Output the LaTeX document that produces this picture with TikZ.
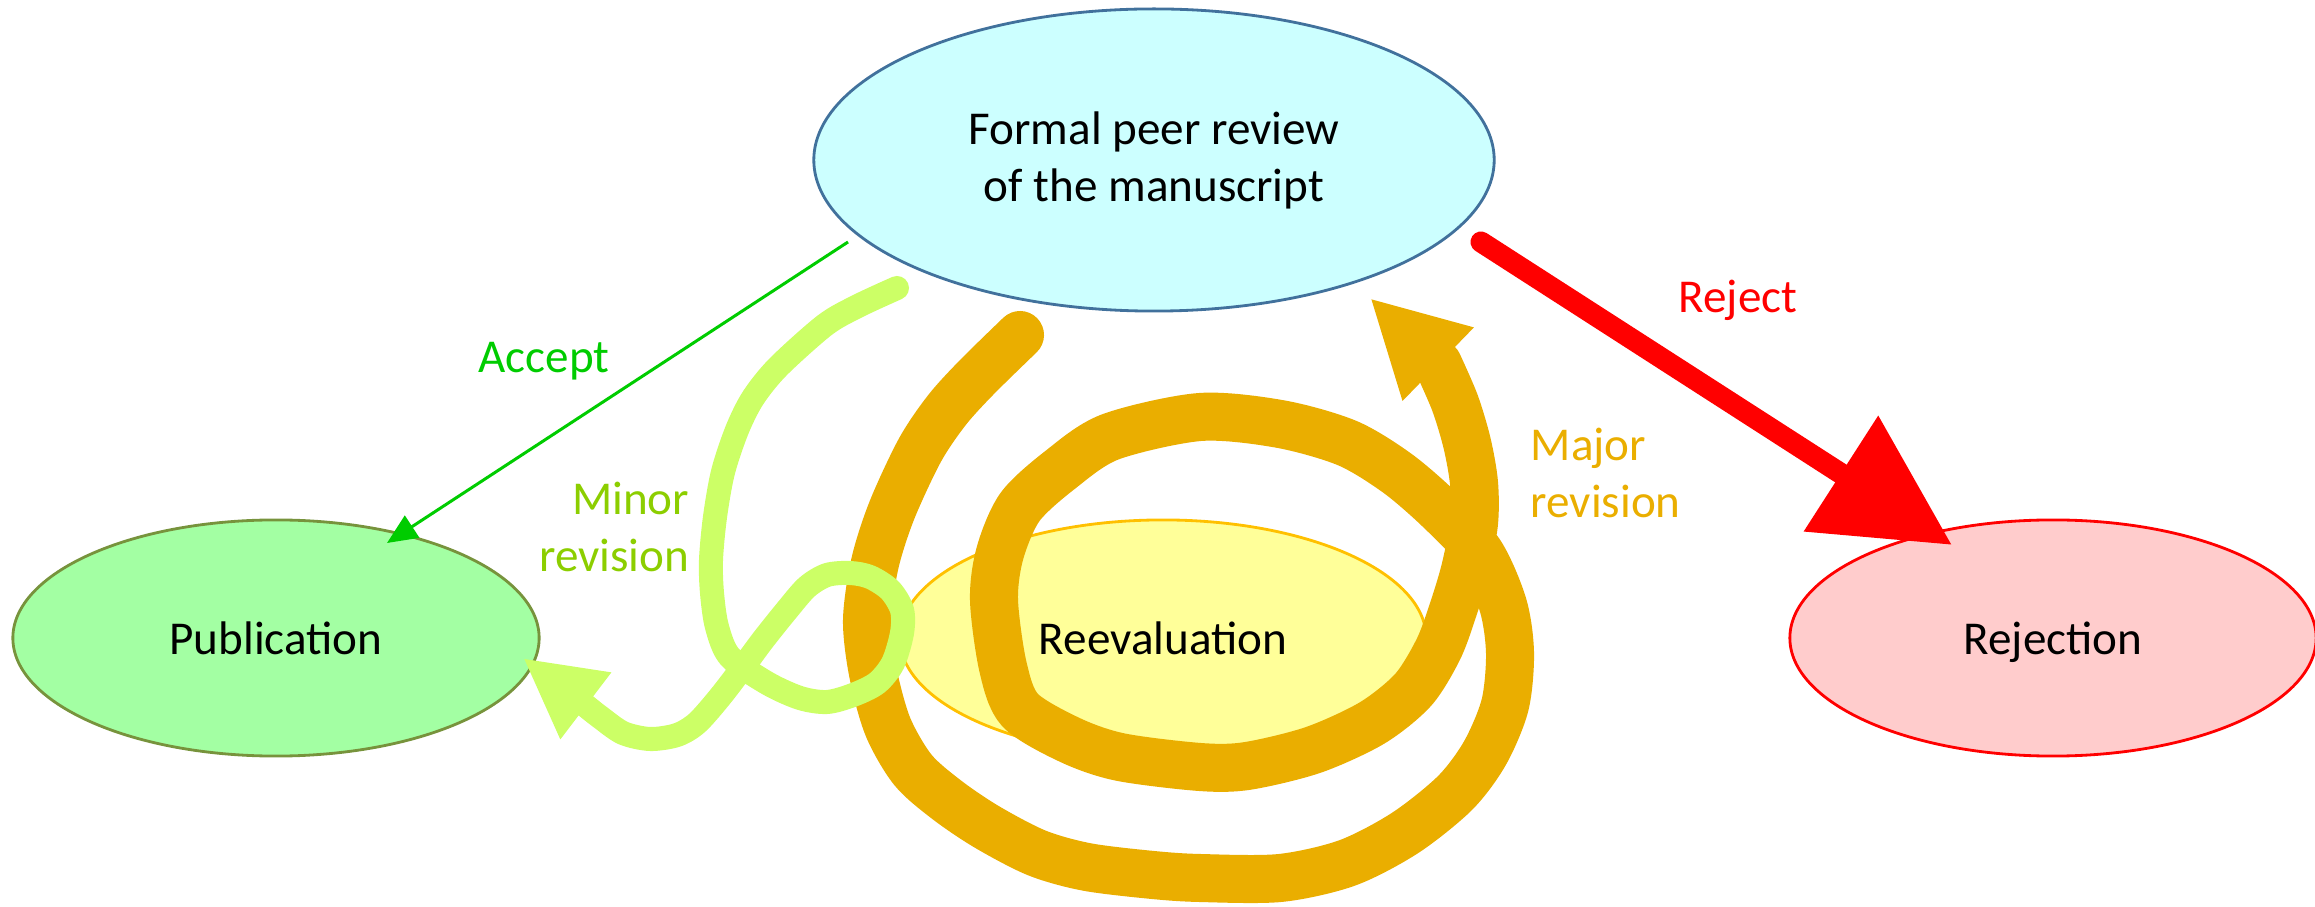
\documentclass[tikz,border=0pt]{standalone}
\usepackage{fontspec}
\setmainfont{Carlito}
\usetikzlibrary{shapes,arrows.meta}
\definecolor{revfill}{RGB}{204,255,255}
\definecolor{revdraw}{RGB}{65,113,156}
\definecolor{pubfill}{RGB}{163,255,163}
\definecolor{pubdraw}{RGB}{119,147,60}
\definecolor{reefill}{RGB}{255,255,153}
\definecolor{reedraw}{RGB}{255,192,0}
\definecolor{rejfill}{RGB}{255,204,204}
\definecolor{accgreen}{RGB}{0,204,0}
\definecolor{minline}{RGB}{204,255,102}
\definecolor{mintext}{RGB}{140,206,0}
\definecolor{majline}{RGB}{234,174,0}
\tikzstyle{ell} = [ellipse, draw, inner sep=0pt, line width=0.8pt, font=\fontsize{13.4}{16.2}\selectfont]
\tikzstyle{ellc} = [ell, fill=revfill, draw=revdraw, minimum width=6.8cm, minimum height=3.02cm, align=center]
\tikzstyle{elllow} = [ell, minimum width=5.26cm, minimum height=2.36cm, text height=0.32cm, text depth=0pt]
\tikzstyle{ellg} = [elllow, fill=pubfill, draw=pubdraw]
\tikzstyle{elly} = [elllow, fill=reefill, draw=reedraw]
\tikzstyle{ellr} = [elllow, fill=rejfill, draw=red]
\tikzstyle{lbl} = [inner sep=0pt, font=\fontsize{13.4}{16.2}\selectfont]
\tikzstyle{line} = [draw, line width=0.03cm, accgreen, -{Triangle[length=0.3cm,width=0.26cm]}]
\tikzstyle{liner} = [draw, line width=0.21cm, red, line cap=round, -{Triangle[length=1.32cm,width=1.32cm]}]
\tikzstyle{lineg} = [draw, line width=0.24cm, minline, line cap=round, line join=round, -{Triangle[length=0.79cm,width=0.78cm]}]
\tikzstyle{lineo} = [draw, line width=0.48cm, majline, line cap=round, line join=round, -{Triangle[length=0.95cm,width=0.95cm]}]
\begin{document}
\begin{tikzpicture}[x=0.01cm, y=-0.01cm]
    \useasboundingbox (0,0) rectangle (2315,907);
    \node [ellc] (review) at (1154,160) {Formal peer review\\of the manuscript};
    \node [ellg] (pub) at (276,638) {Publication};
    \node [elly] (reeval) at (1163,638) {Reevaluation};
    \node [ellr] (rej) at (2053,638) {Rejection};
    % free ends of the hand drawn connectors
    \coordinate (accs) at (848,242);
    \coordinate (acce) at (387,543);
    \coordinate (rejs) at (1481,242);
    \coordinate (reje) at (1952,545);
    \coordinate (majs) at (1020,335);
    \coordinate (majb) at (1438,364);
    \coordinate (maje) at (1370,298);
    \coordinate (mins) at (897,288);
    \coordinate (minb) at (586,706);
    \coordinate (mine) at (523,658);
    \path [lineo] plot [smooth] coordinates {(majs) (977,377) (947,410) (920,450) (892,510) (875,563) (867,620) (873,673) (888,727) (913,770) (947,800) (987,827) (1037,853) (1087,867) (1153,875) (1200,878) (1280,878) (1347,863) (1405,833) (1455,793) (1485,753) (1505,705) (1510,653) (1503,605) (1480,553) (1440,510) (1397,473) (1347,443) (1280,424) (1200,417) (1110,437) (1060,470) (1020,507) (1000,553) (994,600) (1003,667) (1020,710) (1070,740) (1120,757) (1200,767) (1247,766) (1313,750) (1372,723) (1413,690) (1438,650) (1452,613) (1465,570) (1474,523) (1474,483) (1467,443) (1455,403) (majb)} -- (maje);
    \path [lineg] plot [smooth] coordinates {(mins) (858,306) (825,325) (778,367) (753,398) (737,430) (723,472) (715,517) (711,560) (712,593) (717,627) (730,657) (767,683) (800,698) (827,702) (853,695) (877,683) (893,663) (902,633) (902,610) (890,590) (870,577) (850,573) (827,575) (807,587) (787,610) (763,640) (743,667) (720,697) (697,723) (677,735) (650,739) (623,733) (600,717) (minb)} -- (mine);
    \path [line] (accs) -- (acce);
    \path [liner] (rejs) -- (reje);
    \node [lbl, accgreen, anchor=base] (acclbl) at (544,373) {Accept};
    \node [lbl, red, anchor=base] (rejlbl) at (1738,313) {Reject};
    \node [lbl, mintext, align=right, anchor=east] (minlbl) at (690,527) {Minor\\revision};
    \node [lbl, majline, align=left, anchor=west] (majlbl) at (1530,473) {Major\\revision};
\end{tikzpicture}
\end{document}
